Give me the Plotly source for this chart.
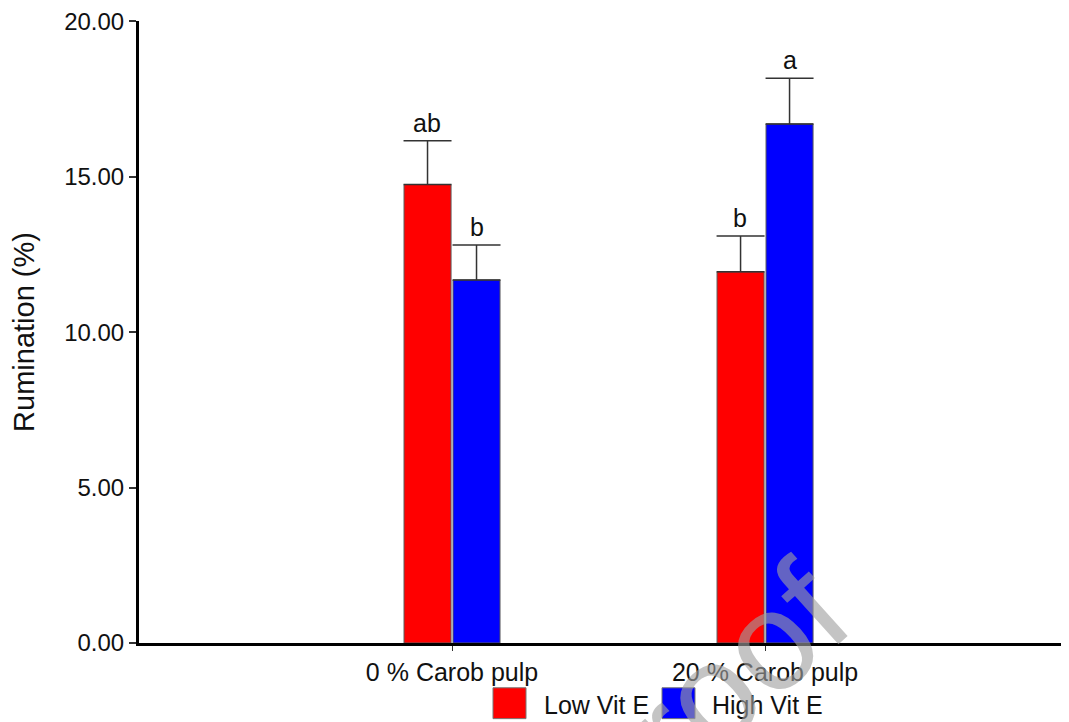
import plotly.graph_objects as go

# ---- data ----
categories = ["0 % Carob pulp", "20 % Carob pulp"]
series_names = ["Low Vit E", "High Vit E"]
low_vit_e = [14.75, 11.94]
high_vit_e = [11.68, 16.70]
low_vit_e_se = [1.41, 1.15]
high_vit_e_se = [1.12, 1.47]
low_letters = ["ab", "b"]
high_letters = ["b", "a"]
y_ticks = [0, 5, 10, 15, 20]

colors = ["#ff0000", "#0000ff"]
FONT = "Arial, Liberation Sans, sans-serif"

# page has an 8px body margin; figure is sized to fill the rest of the window
OFF = 8
W, H = 1069 - OFF, 722 - OFF
L, R, T, B = 139 - OFF, 0, 18 - OFF, 79
pw, ph = W - L - R, H - T - B

def px_to_paper(px, py):
    # px, py in window pixels
    return (px - OFF - L) / pw, (H - B - (py - OFF)) / ph

fig = go.Figure()
for name, vals, se, col in [
    (series_names[0], low_vit_e, low_vit_e_se, colors[0]),
    (series_names[1], high_vit_e, high_vit_e_se, colors[1]),
]:
    fig.add_trace(go.Bar(
        x=categories, y=vals, name=name,
        marker=dict(color=col, line=dict(color="#5a5a5a", width=1)),
        error_y=dict(type="data", array=se, arrayminus=[0] * len(se),
                     symmetric=False, color="#333333", thickness=1.5, width=24),
        showlegend=False,
    ))

# significance letters
for vals, se, letters, shift in [
    (low_vit_e, low_vit_e_se, low_letters, -25),
    (high_vit_e, high_vit_e_se, high_letters, 25),
]:
    for c, v, e, t in zip(categories, vals, se, letters):
        fig.add_annotation(x=c, y=v + e, text=t, showarrow=False,
                           xshift=shift, yshift=2, yanchor="bottom",
                           font=dict(family=FONT, size=25, color="#111111"))

# manual legend (large squares)
legend_items = [
    (series_names[0], colors[0], 493, 542),
    (series_names[1], colors[1], 662, 710),
]
for name, col, sx, tx in legend_items:
    x0, y0 = px_to_paper(sx, 719)
    x1, y1 = px_to_paper(sx + 33, 688)
    fig.add_shape(type="rect", xref="paper", yref="paper",
                  x0=x0, x1=x1, y0=y0, y1=y1,
                  fillcolor=col, line=dict(color="#777777", width=1))
    ax, ay = px_to_paper(tx, 705)
    fig.add_annotation(xref="paper", yref="paper", x=ax, y=ay, text=name,
                       showarrow=False, xanchor="left", yanchor="middle",
                       font=dict(family=FONT, size=25, color="#111111"))

# watermark
wx, wy = px_to_paper(609, 786)
fig.add_annotation(xref="paper", yref="paper", x=wx, y=wy,
                   xanchor="center", yanchor="middle",
                   text="Pre-proof", showarrow=False, textangle=-42,
                   font=dict(family=FONT, size=140, color="rgba(160,160,160,0.62)"))

fig.update_layout(
    width=W, height=H,
    margin=dict(l=L, r=R, t=T, b=B, pad=0),
    paper_bgcolor="white", plot_bgcolor="white",
    barmode="group", bargap=0.687, bargroupgap=0.04,
    font=dict(family=FONT, size=25, color="#111111"),
)
fig.update_xaxes(
    range=[-1, 1.971], showline=True, linecolor="black", linewidth=3,
    ticks="outside", ticklen=5, tickwidth=1, tickcolor="#333333",
    showgrid=False, zeroline=False,
    tickfont=dict(family=FONT, size=25, color="#111111"),
)
fig.update_yaxes(
    range=[0, 20.01], tickvals=y_ticks, tickformat=".2f",
    showline=True, linecolor="black", linewidth=3,
    ticks="outside", ticklen=7, tickwidth=1.5, tickcolor="#333333",
    showgrid=False, zeroline=False, ticklabeloverflow="allow",
    tickfont=dict(family=FONT, size=24, color="#111111"),
    title=dict(text="Rumination (%)", standoff=26,
               font=dict(family=FONT, size=29, color="#111111")),
)

fig.write_html("out.html")
